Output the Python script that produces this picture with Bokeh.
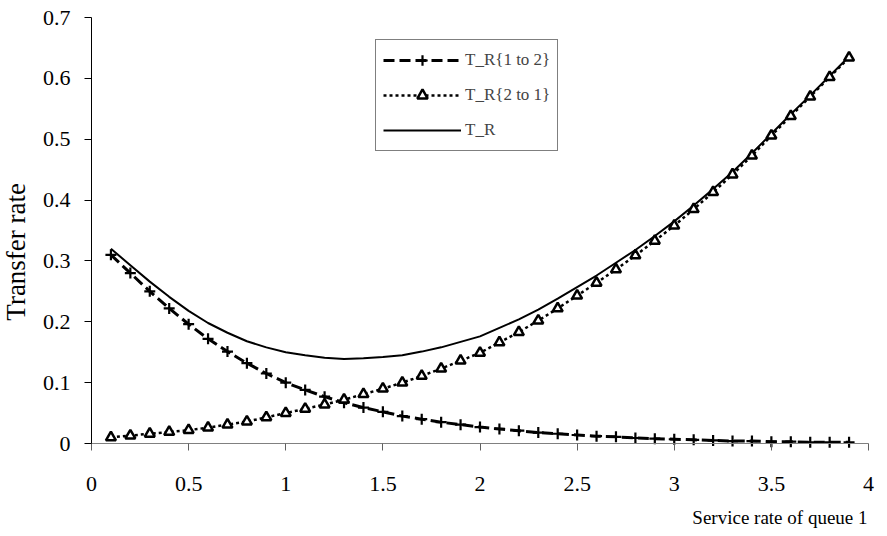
import math
from bokeh.plotting import figure
from bokeh.models import (Range1d, FixedTicker, Legend, LegendItem,
                          CustomJSTickFormatter)
from bokeh.core.properties import value
from bokeh.embed import file_html
from bokeh.resources import INLINE

x_vals = [0.1, 0.2, 0.3, 0.4, 0.5, 0.6, 0.7, 0.8, 0.9, 1.0,
          1.1, 1.2, 1.3, 1.4, 1.5, 1.6, 1.7, 1.8, 1.9, 2.0,
          2.1, 2.2, 2.3, 2.4, 2.5, 2.6, 2.7, 2.8, 2.9, 3.0,
          3.1, 3.2, 3.3, 3.4, 3.5, 3.6, 3.7, 3.8, 3.9]

tr_1_to_2 = [0.310, 0.280, 0.250, 0.222, 0.196, 0.172, 0.151, 0.132, 0.115, 0.100,
             0.088, 0.077, 0.067, 0.059, 0.052, 0.045, 0.040, 0.035, 0.031, 0.027,
             0.024, 0.021, 0.018, 0.016, 0.014, 0.012, 0.011, 0.009, 0.008, 0.007,
             0.006, 0.005, 0.004, 0.004, 0.003, 0.003, 0.002, 0.002, 0.002]

tr_2_to_1 = [0.010, 0.013, 0.016, 0.019, 0.022, 0.026, 0.031, 0.036, 0.043, 0.050,
             0.057, 0.064, 0.072, 0.081, 0.090, 0.100, 0.111, 0.123, 0.136, 0.149,
             0.166, 0.183, 0.202, 0.222, 0.243, 0.264, 0.286, 0.309, 0.333, 0.358,
             0.385, 0.413, 0.442, 0.473, 0.506, 0.538, 0.570, 0.602, 0.634]

tr_total = [0.320, 0.293, 0.266, 0.241, 0.218, 0.198, 0.182, 0.168, 0.158, 0.150,
            0.145, 0.141, 0.139, 0.140, 0.142, 0.145, 0.151, 0.158, 0.167, 0.176,
            0.190, 0.204, 0.220, 0.238, 0.257, 0.276, 0.297, 0.318, 0.341, 0.365,
            0.391, 0.418, 0.446, 0.477, 0.509, 0.541, 0.572, 0.604, 0.636]

x_ticks = [0, 0.5, 1, 1.5, 2, 2.5, 3, 3.5, 4]
x_tick_labels = ["0", "0.5", "1", "1.5", "2", "2.5", "3", "3.5", "4"]
y_ticks = [0, 0.1, 0.2, 0.3, 0.4, 0.5, 0.6, 0.7]
y_tick_labels = ["0", "0.1", "0.2", "0.3", "0.4", "0.5", "0.6", "0.7"]
x_title = "Service rate of queue 1"
y_title = "Transfer rate"
x_min, x_max = 0, 4
y_min, y_max = 0, 0.7

FONT = "'Liberation Serif', 'Times New Roman', serif"

# canvas geometry (pixels) -> data ranges, so the axes sit where the reference has them
W, H = 879, 528
PX_X0, PX_X1 = 91, 868      # canvas x of x_min / x_max
PX_Y0, PX_Y1 = 443, 17      # canvas y of y_min / y_max
sx = (PX_X1 - PX_X0) / (x_max - x_min)
sy = (PX_Y0 - PX_Y1) / (y_max - y_min)
xs = x_min - PX_X0 / sx
xe = xs + W / sx
ye = y_max + PX_Y1 / sy
ys = ye - H / sy

p = figure(width=W, height=H, output_backend="svg", toolbar_location=None,
           x_range=Range1d(xs, xe), y_range=Range1d(ys, ye),
           min_border_left=0, min_border_right=0, min_border_top=0,
           min_border_bottom=0)
p.outline_line_color = None
p.grid.visible = False
p.background_fill_color = "white"
p.border_fill_color = "white"

# real axes, pinned at the data origin
p.xaxis.ticker = FixedTicker(ticks=x_ticks)
p.yaxis.ticker = FixedTicker(ticks=y_ticks)
p.xaxis.fixed_location = y_min
p.yaxis.fixed_location = x_min
p.xaxis.bounds = (x_min, x_max)
p.yaxis.bounds = (y_min, y_max)
for ax in (p.xaxis, p.yaxis):
    ax.formatter = CustomJSTickFormatter(code="return ''")
    ax.major_label_text_alpha = 0
    ax.minor_tick_line_color = None
    ax.major_tick_in = 0
    ax.major_tick_out = 7
    ax.major_tick_line_width = 1
    ax.axis_line_width = 1
p.xaxis.axis_line_color = "#808080"
p.xaxis.major_tick_line_color = "#606060"
p.yaxis.axis_line_color = "black"
p.yaxis.major_tick_line_color = "black"

# tick labels and axis titles (serif text)
p.text(x=x_ticks, y=[y_min] * len(x_ticks), text=x_tick_labels,
       text_font=value(FONT), text_font_size=value("22px"), text_color="black",
       text_align="center", text_baseline="middle", y_offset=40)
p.text(x=[x_min] * len(y_ticks), y=y_ticks, text=y_tick_labels,
       text_font=value(FONT), text_font_size=value("22px"), text_color="black",
       text_align="right", text_baseline="middle", x_offset=-21)
p.text(x=[x_max], y=[y_min], text=[x_title],
       text_font=value(FONT), text_font_size=value("19px"), text_color="black",
       text_align="right", text_baseline="middle", x_offset=-1, y_offset=74)
p.text(x=[x_min], y=[(y_min + y_max) / 2 - 0.035], text=[y_title], angle=math.pi / 2,
       text_font=value(FONT), text_font_size=value("27px"), text_color="black",
       text_align="center", text_baseline="middle", x_offset=-76)

# series
r_total = p.line(x_vals, tr_total, line_color="black", line_width=2)
r12_line = p.line(x_vals, tr_1_to_2, line_color="black", line_width=3, line_dash="11 5")
r12_mark = p.scatter(x_vals, tr_1_to_2, marker="cross", size=11, line_color="black",
                     line_width=2.2)
r21_line = p.line(x_vals, tr_2_to_1, line_color="black", line_width=2.5, line_dash="3 3")
r21_mark = p.scatter(x_vals, tr_2_to_1, marker="triangle", size=10, line_color="black",
                     fill_color="white", line_width=2.5)

legend = Legend(items=[
    LegendItem(label="T_R{1 to 2}", renderers=[r12_line, r12_mark]),
    LegendItem(label="T_R{2 to 1}", renderers=[r21_line, r21_mark]),
    LegendItem(label="T_R", renderers=[r_total]),
])
legend.label_text_font = FONT
legend.label_text_font_size = "17px"
legend.glyph_width = 78
legend.glyph_height = 26
legend.label_standoff = 4
legend.spacing = 9
legend.padding = 7
legend.margin = 0
legend.border_line_color = "black"
legend.border_line_width = 1.5
legend.background_fill_alpha = 1
legend.location = (375, 377)
p.add_layout(legend, "center")

open("out.html", "w").write(file_html(p, INLINE))
